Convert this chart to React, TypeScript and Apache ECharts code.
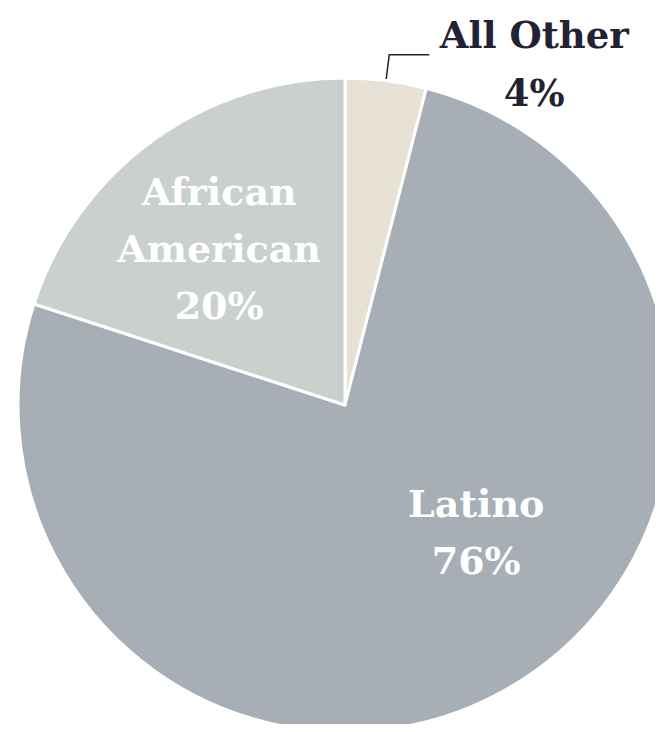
import React, { useEffect, useRef } from "react";
import * as echarts from "echarts";

const categories = ["All Other", "Latino", "African American"];
const values = [4, 76, 20];
const colors = ["#e8e1d6", "#a8aeb6", "#cad1cd"];

export default function App() {
  const ref = useRef<HTMLDivElement>(null);
  useEffect(() => {
    const chart = echarts.init(ref.current!, null, { renderer: "svg" });
    const font = "'DejaVu Serif', serif";
    chart.setOption({
      animation: false,
      series: [
        {
          type: "pie",
          center: [337, 397],
          radius: [0, 327],
          startAngle: 90,
          clockwise: true,
          silent: true,
          itemStyle: { borderColor: "#ffffff", borderWidth: 3 },
          labelLine: { show: true, length: 26, length2: 40, lineStyle: { color: "#222233", width: 1.5 } },
          data: categories.map((c, i) => ({
            name: c,
            value: values[i],
            itemStyle: { color: colors[i] },
            label:
              i === 0
                ? {
                    position: "outside",
                    color: "#222233",
                    formatter: "{a|{b}}\n{a|{c}%}",
                    fontFamily: font,
                    fontWeight: "bold",
                    fontSize: 37,
                    padding: [18, 0, 0, 0],
                    rich: {
                      a: { width: 200, align: "center", fontFamily: font, fontWeight: "bold", fontSize: 37, lineHeight: 58, color: "#222233" },
                    },
                  }
                : {
                    position: "inside",
                    color: "#ffffff",
                    formatter: i === 2 ? "African\nAmerican\n{c}%" : "{b}\n{c}%",
                    fontFamily: font,
                    fontWeight: "bold",
                    fontSize: 38,
                    lineHeight: 57,
                    align: "center",
                    offset: i === 1 ? [51, -19] : [-28, -22],
                  },
            labelLine: i === 0 ? { show: true } : { show: false },
          })),
        },
      ],
    });
    return () => chart.dispose();
  }, []);
  return <div ref={ref} style={{ width: 647, height: 716 }} />;
}
